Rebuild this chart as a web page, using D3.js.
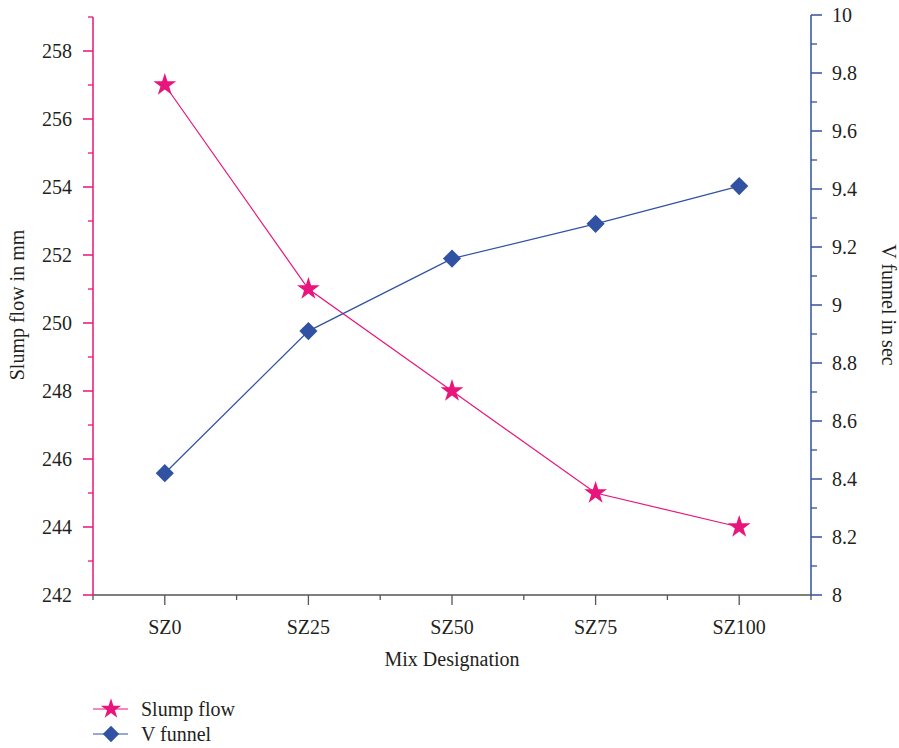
<!DOCTYPE html>
<html><head><meta charset="utf-8">
<script src="https://cdn.jsdelivr.net/npm/d3@7"></script>
<style>body{margin:0;background:#fff}svg{display:block}text{font-family:"Liberation Serif","DejaVu Serif",serif;fill:#231f20}</style>
</head><body><svg id="c" width="899" height="748"></svg>
<script>
const categories = ["SZ0","SZ25","SZ50","SZ75","SZ100"];
const slumpFlow = [257, 251, 248, 245, 244];
const vFunnel = [8.42, 8.91, 9.16, 9.28, 9.41];
const leftTicks = [242,244,246,248,250,252,254,256,258];
const rightTicks = [8,8.2,8.4,8.6,8.8,9,9.2,9.4,9.6,9.8,10];
const pink = "#e8157c", blue = "#3152a3", axisGrey = "#555";
const FS = 20;

const svg = d3.select("#c");
const L = 93, R = 811, T = 15, B = 595;
const x = d3.scalePoint().domain(categories).range([L, R]).padding(0.5);
const yL = d3.scaleLinear().domain([242, 259]).range([B, B - 17*34]);
const yR = d3.scaleLinear().domain([8, 10]).range([B, T]);

// x axis
const gx = svg.append("g").attr("transform", `translate(0,${B})`);
gx.append("line").attr("x1", L).attr("x2", R).attr("stroke", axisGrey).attr("stroke-width", 1.5);
const step = x.step();
categories.forEach((c, i) => {
  gx.append("line").attr("x1", x(c)).attr("x2", x(c)).attr("y1", 0).attr("y2", 10).attr("stroke", axisGrey).attr("stroke-width", 1.3);
  gx.append("text").attr("x", x(c)).attr("y", 39).attr("text-anchor", "middle").attr("font-size", FS).text(c);
});
for (let i = 0; i <= categories.length; i++) {
  const px = L + i * step;
  gx.append("line").attr("x1", px).attr("x2", px).attr("y1", 0).attr("y2", 5).attr("stroke", axisGrey).attr("stroke-width", 1.3);
}
svg.append("text").attr("x", (L + R) / 2).attr("y", 666).attr("text-anchor", "middle").attr("font-size", FS).text("Mix Designation");

// left axis
const gl = svg.append("g");
gl.append("line").attr("x1", L).attr("x2", L).attr("y1", yL(242)).attr("y2", yL(259)).attr("stroke", pink).attr("stroke-width", 1.5);
d3.range(243, 260, 2).forEach(v => gl.append("line").attr("x1", L - 5).attr("x2", L).attr("y1", yL(v)).attr("y2", yL(v)).attr("stroke", pink).attr("stroke-width", 1.3));
leftTicks.forEach(v => {
  gl.append("line").attr("x1", L - 10).attr("x2", L).attr("y1", yL(v)).attr("y2", yL(v)).attr("stroke", pink).attr("stroke-width", 1.5);
  gl.append("text").attr("x", L - 21).attr("y", yL(v)).attr("dy", "0.35em").attr("text-anchor", "end").attr("font-size", FS).text(v);
});
svg.append("text").attr("transform", `translate(24,${(T + B) / 2}) rotate(-90)`).attr("text-anchor", "middle").attr("font-size", FS).text("Slump flow in mm");

// right axis
const gr = svg.append("g");
gr.append("line").attr("x1", R).attr("x2", R).attr("y1", B).attr("y2", T).attr("stroke", blue).attr("stroke-width", 1.5);
d3.range(8.1, 10, 0.2).forEach(v => gr.append("line").attr("x1", R).attr("x2", R + 6).attr("y1", yR(v)).attr("y2", yR(v)).attr("stroke", blue).attr("stroke-width", 1.3));
rightTicks.forEach(v => {
  gr.append("line").attr("x1", R).attr("x2", R + 11).attr("y1", yR(v)).attr("y2", yR(v)).attr("stroke", blue).attr("stroke-width", 1.5);
  gr.append("text").attr("x", R + 21).attr("y", yR(v)).attr("dy", "0.35em").attr("text-anchor", "start").attr("font-size", FS).text(v);
});
svg.append("text").attr("transform", `translate(882,${(T + B) / 2}) rotate(90)`).attr("text-anchor", "middle").attr("font-size", FS).text("V funnel in sec");

// series
const star = d3.symbol().type(d3.symbolStar).size(160);
const diamond = d3.symbol().type(d3.symbolSquare).size(165);
svg.append("path").datum(slumpFlow).attr("fill", "none").attr("stroke", pink).attr("stroke-width", 1.2)
  .attr("d", d3.line().x((d, i) => x(categories[i])).y(d => yL(d)));
svg.append("path").datum(vFunnel).attr("fill", "none").attr("stroke", blue).attr("stroke-width", 1.2)
  .attr("d", d3.line().x((d, i) => x(categories[i])).y(d => yR(d)));
svg.selectAll(".st").data(slumpFlow).join("path").attr("fill", pink)
  .attr("transform", (d, i) => `translate(${x(categories[i])},${yL(d)})`).attr("d", star);
svg.selectAll(".dm").data(vFunnel).join("path").attr("fill", blue)
  .attr("transform", (d, i) => `translate(${x(categories[i])},${yR(d)}) rotate(45)`).attr("d", diamond);

// legend
const legend = [{name: "Slump flow", c: pink, s: star, r: 0}, {name: "V funnel", c: blue, s: diamond, r: 45}];
legend.forEach((l, i) => {
  const y = 709 + i * 25;
  svg.append("line").attr("x1", 93).attr("x2", 128).attr("y1", y).attr("y2", y).attr("stroke", l.c).attr("stroke-width", 1.2);
  svg.append("path").attr("d", l.s).attr("fill", l.c).attr("transform", `translate(111,${y}) rotate(${l.r}) scale(0.9)`);
  svg.append("text").attr("x", 141).attr("y", y).attr("dy", "0.35em").attr("font-size", FS).text(l.name);
});
</script></body></html>
